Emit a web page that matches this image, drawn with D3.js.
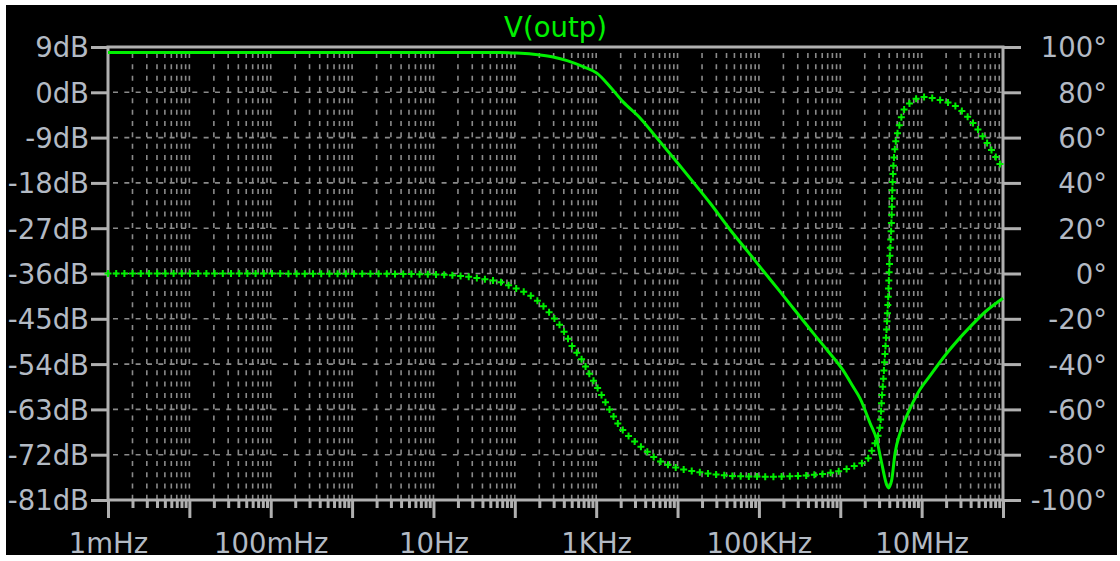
<!DOCTYPE html>
<html>
<head>
<meta charset="utf-8">
<script src="https://cdn.jsdelivr.net/npm/d3@7"></script>
<style>
  html, body { margin: 0; padding: 0; background: #ffffff; }
  svg { display: block; }
</style>
</head>
<body>
<svg id="chart" width="1120" height="561"></svg>
<script>
// Bode plot of V(outp): magnitude (solid) and phase (dotted "+" trace)
const traceName = "V(outp)";

// Magnitude samples: frequency in Hz, gain in dB
const magFreq = [0.001, 10, 65.8, 106, 204, 295, 439, 689, 1020, 1480, 2140, 3460, 5590, 9860,
  15500, 25100, 44200, 73500, 112000, 182000, 321000, 462000, 689000, 1.08e6, 1.44e6, 1.75e6,
  2.32e6, 2.81e6, 3.23e6, 3.72e6, 3.90e6, 4.29e6, 4.71e6, 5.43e6, 6.81e6, 9.03e6, 1.27e7,
  2.05e7, 3.94e7, 6.37e7, 1e8];
const magDb = [7.9, 7.9, 7.9, 7.8, 7.4, 7.0, 6.3, 5.1, 3.8, 1.1, -1.9, -5.1, -9.1, -13.9,
  -17.8, -22.0, -27.3, -31.7, -35.4, -39.6, -44.6, -47.8, -51.2, -55.2, -58.5, -60.8,
  -65.7, -69.1, -73.7, -78.0, -78.6, -77.0, -71.7, -67.7, -63.7, -59.7, -56.3,
  -51.8, -46.6, -43.3, -40.9];

// Phase samples: frequency in Hz, phase in degrees
const phaseFreq = [0.001, 1, 6.84, 17.4, 28.1, 45.5, 69.6, 87.3, 141, 204, 295, 391, 505, 670,
  840, 968, 1360, 1960, 2840, 3980, 5750, 8790, 14200, 23000, 53800, 137000, 222000, 425000,
  689000, 1.08e6, 1.61e6, 2.13e6, 2.55e6, 3.08e6, 3.23e6, 3.38e6, 3.55e6, 3.72e6, 3.90e6,
  4.01e6, 4.17e6, 4.29e6, 4.36e6, 4.49e6, 4.71e6, 5.17e6, 5.91e6, 7.20e6, 1.04e7, 1.68e7,
  2.72e7, 4.29e7, 6.37e7, 1e8];
const phaseDeg = [0, -0.1, -0.3, -0.8, -1.5, -2.7, -4.0, -5.5, -8.8, -13.0, -19.1, -24.9, -32.0, -38.2,
  -44.8, -48.5, -58.1, -67.6, -73.5, -77.9, -82.3, -85.3, -87.1, -88.2, -89.5, -89.7, -89.6, -89.0,
  -88.2, -86.8, -84.5, -82.3, -76.5, -67.6, -55.8, -46.9, -35.1, -23.6, -8.6,
  2.9, 14.8, 26.7, 36.9, 47.0, 55.8, 63.4, 71.3, 75.3, 77.9, 76.6,
  73.5, 66.4, 57.6, 46.0];

// Axis ticks
const dbTicks = [9, 0, -9, -18, -27, -36, -45, -54, -63, -72, -81];
const degTicks = [100, 80, 60, 40, 20, 0, -20, -40, -60, -80, -100];
const freqLabelValues = [1e-3, 1e-1, 1e1, 1e3, 1e5, 1e7];
const freqLabels = ["1mHz", "100mHz", "10Hz", "1KHz", "100KHz", "10MHz"];

const svg = d3.select("#chart");
const W = 1120, H = 561;
const plotL = 108, plotR = 1003, plotT = 47, plotB = 500;

const FONT = "'DejaVu Sans', Verdana, sans-serif";
const FONT_SIZE = "27.5px";
const TEXT_COLOR = "#b3bac4";
const AXIS_COLOR = "#b0b0b0";
const GRID_COLOR = "#8a8a8a";
const TRACE_COLOR = "#00f000";

// black plotting window with thin white frame
svg.append("rect").attr("x", 0).attr("y", 0).attr("width", W).attr("height", H).attr("fill", "#ffffff");
svg.append("rect").attr("x", 6).attr("y", 5).attr("width", 1111).attr("height", 550).attr("fill", "#000000");

const x = d3.scaleLog().domain([1e-3, 1e8]).range([plotL, plotR]);
const yDb = d3.scaleLinear().domain([-81, 9]).range([plotB, plotT]);
const yDeg = d3.scaleLinear().domain([-100, 100]).range([plotB, plotT]);

// all 1..9 x decade frequencies for grid and minor ticks
const freqTicks = [];
for (let e = -3; e <= 8; e++) {
  for (let m = 1; m <= 9; m++) {
    const v = m * Math.pow(10, e);
    if (v <= 1e8 * 1.0001) freqTicks.push(+v.toPrecision(6));
  }
}
const isDecade = v => Math.abs(Math.log10(v) - Math.round(Math.log10(v))) < 1e-6;
const labelFor = v => {
  const i = freqLabelValues.findIndex(f => Math.abs(Math.log10(f) - Math.log10(v)) < 1e-6);
  return i >= 0 ? freqLabels[i] : "";
};

// dashed grid
const grid = svg.append("g")
  .attr("stroke", GRID_COLOR)
  .attr("stroke-width", 1.6)
  .attr("stroke-dasharray", "5 6.33")
  .attr("fill", "none");

grid.selectAll("line.vg")
  .data(freqTicks.filter(f => f > 1e-3 * 1.0001 && f < 1e8 * 0.9999))
  .join("line")
  .attr("class", "vg")
  .attr("x1", d => x(d)).attr("x2", d => x(d))
  .attr("y1", plotT).attr("y2", plotB)
  .attr("stroke-dashoffset", 5.33);

grid.selectAll("line.hg")
  .data(dbTicks.slice(1, -1))
  .join("line")
  .attr("class", "hg")
  .attr("x1", plotL).attr("x2", plotR)
  .attr("y1", d => yDb(d)).attr("y2", d => yDb(d))
  .attr("stroke-dashoffset", 6.33);

// plot frame
svg.append("rect")
  .attr("x", plotL).attr("y", plotT)
  .attr("width", plotR - plotL).attr("height", plotB - plotT)
  .attr("fill", "none").attr("stroke", AXIS_COLOR).attr("stroke-width", 3);

function styleAxis(g) {
  g.select(".domain").remove();
  g.selectAll(".tick line").attr("stroke", AXIS_COLOR).attr("stroke-width", 3);
  g.selectAll(".tick text")
    .attr("fill", TEXT_COLOR)
    .style("font-family", FONT)
    .style("font-size", FONT_SIZE);
}

// left axis: magnitude
const leftAxis = svg.append("g")
  .attr("transform", `translate(${plotL},0)`)
  .call(d3.axisLeft(yDb).tickValues(dbTicks).tickFormat(d => d + "dB").tickSize(17).tickPadding(2))
  .call(styleAxis);
leftAxis.selectAll(".tick text").attr("dy", "0.36em");

// right axis: phase
const rightAxis = svg.append("g")
  .attr("transform", `translate(${plotR},0)`)
  .call(d3.axisRight(yDeg).tickValues(degTicks).tickFormat(d => d + "\u00B0").tickSize(18))
  .call(styleAxis);
rightAxis.selectAll(".tick text")
  .attr("text-anchor", "end")
  .attr("x", 104)
  .attr("dy", "0.36em");

// bottom axis: frequency (log)
const bottomAxis = svg.append("g")
  .attr("transform", `translate(0,${plotB})`)
  .call(d3.axisBottom(x).tickValues(freqTicks).tickFormat(labelFor).tickSize(8))
  .call(styleAxis);
bottomAxis.selectAll(".tick line")
  .attr("stroke-linecap", "butt")
  .attr("y2", d => isDecade(d) ? 18 : 8);
bottomAxis.selectAll(".tick text")
  .attr("y", 53)
  .attr("dy", 0)
  .attr("text-anchor", "middle");

// trace title
svg.append("text")
  .attr("x", (plotL + plotR) / 2)
  .attr("y", 37)
  .attr("text-anchor", "middle")
  .attr("fill", TRACE_COLOR)
  .style("font-family", FONT)
  .style("font-size", FONT_SIZE)
  .text(traceName);

// magnitude trace
const magData = magFreq.map((f, i) => ({ f, v: magDb[i] }));
const magLine = d3.line()
  .x(d => x(d.f))
  .y(d => yDb(d.v))
  .curve(d3.curveMonotoneX);

svg.append("path")
  .datum(magData)
  .attr("d", magLine)
  .attr("fill", "none")
  .attr("stroke", TRACE_COLOR)
  .attr("stroke-width", 3)
  .attr("stroke-linejoin", "round");

// phase trace: dotted style, "+" marks every ~8px along the curve
const phaseData = phaseFreq.map((f, i) => ({ f, v: phaseDeg[i] }));
const phaseLine = d3.line()
  .x(d => x(d.f))
  .y(d => yDeg(d.v))
  .curve(d3.curveMonotoneX);

const phaseGuide = svg.append("path")
  .datum(phaseData)
  .attr("d", phaseLine)
  .attr("fill", "none")
  .attr("stroke", "none");

const guideNode = phaseGuide.node();
const total = guideNode.getTotalLength();
const marks = d3.range(0, total, 8.2).map(l => guideNode.getPointAtLength(l));

svg.append("g")
  .attr("stroke", TRACE_COLOR)
  .attr("stroke-width", 2)
  .attr("fill", "none")
  .selectAll("path")
  .data(marks)
  .join("path")
  .attr("d", p => `M${p.x - 3.5},${p.y}h7M${p.x},${p.y - 3.5}v7`);
</script>
</body>
</html>
